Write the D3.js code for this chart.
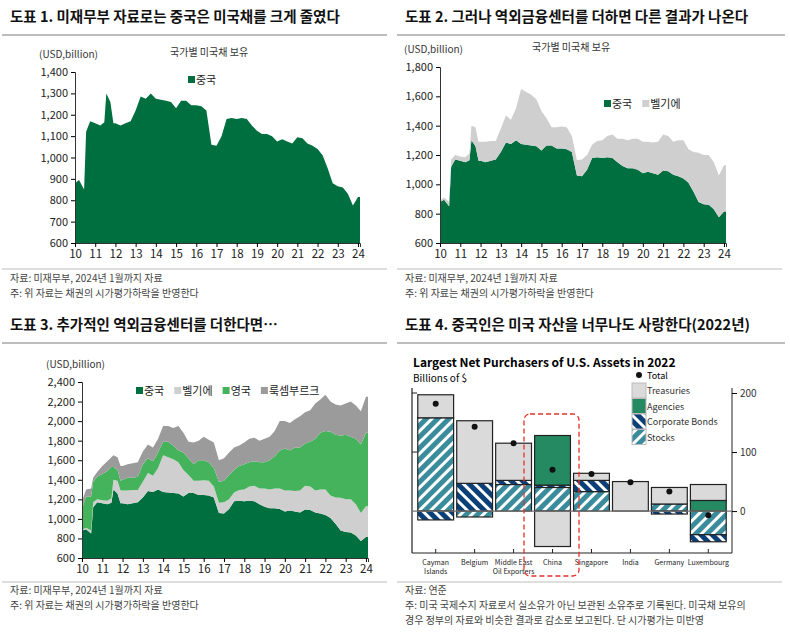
<!DOCTYPE html>
<html><head><meta charset="utf-8">
<script src="https://cdn.jsdelivr.net/npm/d3@7"></script>
<style>
body{margin:0;background:#fff;font-family:"Noto Sans CJK KR","Noto Sans",sans-serif}
text{font-family:"Noto Sans CJK KR","Noto Sans",sans-serif}
</style></head><body>
<svg id="c" width="790" height="638"></svg>
<script>
// dates as year fractions
const dates = [2010.0,2010.2,2010.45,2010.55,2010.75,2011.0,2011.25,2011.45,2011.55,2011.75,2011.9,2012.0,2012.25,2012.5,2012.75,2013.0,2013.25,2013.5,2013.75,2014.0,2014.25,2014.5,2014.75,2015.0,2015.25,2015.5,2015.75,2016.0,2016.25,2016.5,2016.75,2017.0,2017.25,2017.5,2017.75,2018.0,2018.25,2018.5,2018.75,2019.0,2019.25,2019.5,2019.75,2020.0,2020.25,2020.5,2020.75,2021.0,2021.25,2021.5,2021.75,2022.0,2022.25,2022.5,2022.75,2023.0,2023.25,2023.5,2023.75,2024.0,2024.1];
const china = [880,895,850,1120,1170,1160,1150,1165,1300,1260,1160,1160,1150,1160,1170,1220,1285,1275,1300,1275,1270,1265,1260,1230,1265,1265,1245,1245,1240,1220,1060,1055,1100,1180,1185,1180,1185,1180,1150,1125,1110,1110,1100,1075,1085,1075,1065,1095,1090,1065,1055,1040,1010,950,880,865,860,830,775,815,815];
const belgium = [10,15,30,50,30,30,35,45,100,130,130,130,140,135,125,160,185,165,220,375,360,345,320,270,185,125,145,150,150,110,105,115,100,90,110,120,145,160,160,185,190,200,210,215,205,210,225,245,240,225,245,260,230,270,335,335,340,320,285,315,315];
const uk = [210,320,350,210,230,270,305,320,130,110,100,110,130,125,135,180,150,150,160,140,160,140,120,180,170,170,210,205,190,190,215,220,250,230,245,260,250,250,270,270,300,330,390,430,410,445,440,430,460,530,580,600,650,640,635,660,640,670,700,750,750];
const lux = [80,70,80,40,50,80,100,100,120,130,150,140,140,150,150,130,140,140,140,160,160,180,250,200,170,220,200,240,230,260,220,230,230,230,210,220,240,240,220,240,240,260,300,280,280,290,320,320,320,360,340,370,310,310,310,320,360,340,340,370,370];
const yearTicks = d3.range(2010, 2025);

// panel 4 (billions of $)
const countries = ["Cayman\nIslands","Belgium","Middle East\nOil Exporters","China","Singapore","India","Germany","Luxembourg"];
const stocks    = [158,-10,45,40,33,0,12,-40];
const corporate = [-15,47,7,4,19,0,-5,-12];
const agencies  = [0,0,0,84,0,0,0,18];
const treasuries= [39,106,63,-60,12,50,28,27];
const totals    = [182,143,115,70,63,49,33,-7];

const C_CHINA="#006f3f", C_BEL="#cfcfcf", C_UK="#45b35c", C_LUX="#9b9b9b";
const svg = d3.select("#c");
const defs = svg.append("defs");
function hatch(id, bg, dir){
  const p = defs.append("pattern").attr("id",id).attr("patternUnits","userSpaceOnUse")
    .attr("width",8).attr("height",8).attr("patternTransform",`rotate(${dir})`);
  p.append("rect").attr("width",8).attr("height",8).attr("fill",bg);
  p.append("rect").attr("width",3).attr("height",8).attr("fill","#fff");
}
hatch("hStocks","#3a8c9c",45);
hatch("hCorp","#0b3f78",-45);

// headers
function header(x, y, w, title){
  svg.append("text").attr("x",x+8).attr("y",y).attr("font-size",14.5).attr("font-weight",700).attr("fill","#111").text(title);
  svg.append("line").attr("x1",x).attr("x2",x+w).attr("y1",y+13).attr("y2",y+13).attr("stroke","#bdbdbd").attr("stroke-width",2);
}
header(2,22,385,"도표 1. 미재무부 자료로는 중국은 미국채를 크게 줄였다");
header(397,22,388,"도표 2. 그러나 역외금융센터를 더하면 다른 결과가 나온다");
header(2,330,385,"도표 3. 추가적인 역외금융센터를 더한다면…");
header(397,330,388,"도표 4. 중국인은 미국 자산을 너무나도 사랑한다(2022년)");

function foot(x, y, lines, lineY){
  svg.append("line").attr("x1",x).attr("x2",x+385).attr("y1",lineY).attr("y2",lineY).attr("stroke","#bdbdbd").attr("stroke-width",1);
  lines.forEach((t,i)=>svg.append("text").attr("x",x+8).attr("y",y+i*15).attr("font-size",10).attr("fill","#444").text(t));
}
const f1 = ["자료: 미재무부, 2024년 1월까지 자료","주: 위 자료는 채권의 시가평가하락을 반영한다"];
foot(2,282,f1,269);
foot(397,282,f1,269);
foot(2,594,f1,582);
foot(397,594,["자료: 연준","주: 미국 국제수지 자료로서 실소유가 아닌 보관된 소유주로 기록된다. 미국채 보유의","경우 정부의 자료와 비슷한 결과로 감소로 보고된다. 단 시가평가는 미반영"],582);

function areaPanel(o){
  const g = svg.append("g");
  const x = d3.scaleLinear().domain([2010,2024.1]).range([o.l,o.r]);
  const y = d3.scaleLinear().domain(o.dom).range([o.b,o.t]);
  const rows = dates.map((d,i)=>{const r={d}; o.series.forEach(s=>r[s.k]=s.v[i]); return r;});
  const st = d3.stack().keys(o.series.map(s=>s.k))(rows);
  const ar = d3.area().x(d=>x(d.data.d)).y0(d=>y(Math.max(d[0],o.dom[0]))).y1(d=>y(d[1]));
  st.forEach((s,i)=>g.append("path").attr("d",ar(s)).attr("fill",o.series[i].c));
  const ya = d3.axisLeft(y).tickValues(d3.range(o.dom[0],o.dom[1]+1,o.step)).tickSize(4).tickFormat(d3.format(","));
  const ga = g.append("g").attr("transform",`translate(${o.l},0)`).call(ya);
  ga.select(".domain").attr("stroke","#333");
  ga.selectAll("text").attr("font-size",11).attr("fill","#222");
  const xa = d3.axisBottom(x).tickValues(yearTicks).tickSize(4).tickFormat(d=>String(d).slice(2));
  const gx = g.append("g").attr("transform",`translate(0,${o.b})`).call(xa);
  gx.select(".domain").attr("stroke","#333");
  gx.selectAll("text").attr("font-size",11.5).attr("fill","#222");
  g.append("text").attr("x",o.l-36).attr("y",o.t-14).attr("font-size",10).attr("fill","#333").text("(USD,billion)");
  if(o.sub) g.append("text").attr("x",o.subx).attr("y",o.t-16).attr("font-size",10).attr("fill","#333").text(o.sub);
  let lx = o.lx;
  o.series.forEach(s=>{
    g.append("rect").attr("x",lx).attr("y",o.ly-8).attr("width",7).attr("height",7).attr("fill",s.c);
    const t = g.append("text").attr("x",lx+8).attr("y",o.ly).attr("font-size",11).attr("fill","#222").text(s.n);
    lx += t.node().getComputedTextLength()+18;
  });
}
areaPanel({l:75,r:360,t:72,b:243,dom:[600,1400],step:100,sub:"국가별 미국채 보유",subx:170,lx:188,ly:84,
  series:[{k:"cn",v:china,c:C_CHINA,n:"중국"}]});
areaPanel({l:440,r:726,t:67,b:243,dom:[600,1800],step:200,sub:"국가별 미국채 보유",subx:532,lx:604,ly:108,
  series:[{k:"cn",v:china,c:C_CHINA,n:"중국"},{k:"be",v:belgium,c:C_BEL,n:"벨기에"}]});
areaPanel({l:82,r:368,t:382,b:558,dom:[600,2400],step:200,lx:136,ly:395,
  series:[{k:"cn",v:china,c:C_CHINA,n:"중국"},{k:"be",v:belgium,c:C_BEL,n:"벨기에"},{k:"uk",v:uk,c:C_UK,n:"영국"},{k:"lu",v:lux,c:C_LUX,n:"룩셈부르크"}]});

// panel 4
(function(){
  const g = svg.append("g");
  const L=412, R=732, B=553;
  const x = d3.scaleBand().domain(countries).range([417,727]).paddingInner(0.08).paddingOuter(0.02);
  const y = d3.scaleLinear().domain([-71,200]).range([B,393]);
  const rows = countries.map((c,i)=>({c,stocks:stocks[i],corporate:corporate[i],agencies:agencies[i],treasuries:treasuries[i]}));
  const keys=["stocks","corporate","agencies","treasuries"];
  const fills={stocks:"url(#hStocks)",corporate:"url(#hCorp)",agencies:"#258a62",treasuries:"#dadada"};
  const st = d3.stack().keys(keys).offset(d3.stackOffsetDiverging)(rows);
  g.append("text").attr("x",413).attr("y",367).attr("font-size",12).attr("font-weight",700).attr("font-family","Liberation Sans, Arial").text("Largest Net Purchasers of U.S. Assets in 2022");
  g.append("text").attr("x",413).attr("y",382).attr("font-size",10).attr("font-family","Liberation Sans, Arial").text("Billions of $");
  g.append("line").attr("x1",L).attr("x2",R).attr("y1",B).attr("y2",B).attr("stroke","#222").attr("stroke-width",1.2);
  g.append("line").attr("x1",L).attr("x2",L).attr("y1",388).attr("y2",B).attr("stroke","#222").attr("stroke-width",1.2);
  const ra = g.append("g").attr("transform",`translate(${R},0)`).call(d3.axisRight(y).tickValues([0,100,200]).tickSize(5));
  ra.select(".domain").attr("d",`M0,388V${B}`).attr("stroke","#222");
  ra.selectAll("text").attr("font-size",10).attr("fill","#333").attr("font-family","Liberation Sans, Arial");
  g.append("line").attr("x1",L).attr("x2",L+5).attr("y1",y(100)).attr("y2",y(100)).attr("stroke","#222");
  g.append("line").attr("x1",L).attr("x2",L+5).attr("y1",y(200)).attr("y2",y(200)).attr("stroke","#222");
  countries.forEach(c=>{
    const cx = x(c)+x.bandwidth()/2;
    g.append("line").attr("x1",cx).attr("x2",cx).attr("y1",B).attr("y2",B-4).attr("stroke","#222");
    const t = g.append("text").attr("x",cx).attr("y",B+12).attr("text-anchor","middle").attr("font-size",7).attr("font-family","Liberation Sans, Arial").attr("fill","#222");
    c.split("\n").forEach((s,i)=>t.append("tspan").attr("x",cx).attr("dy",i?8.5:0).text(s));
  });
  st.forEach(s=>{
    g.selectAll(null).data(s.filter(d=>d[1]!==d[0])).join("rect")
      .attr("x",d=>x(d.data.c)).attr("width",x.bandwidth())
      .attr("y",d=>y(Math.max(d[0],d[1]))).attr("height",d=>Math.abs(y(d[0])-y(d[1])))
      .attr("fill",fills[s.key]).attr("stroke","#222").attr("stroke-width",1.2);
  });
  g.append("line").attr("x1",L).attr("x2",R).attr("y1",y(0)).attr("y2",y(0)).attr("stroke","#777").attr("stroke-width",1.2);
  g.selectAll(null).data(totals).join("circle").attr("cx",(d,i)=>x(countries[i])+x.bandwidth()/2).attr("cy",d=>y(d)).attr("r",3).attr("fill","#111");
  const lx=632;
  g.append("circle").attr("cx",lx+7).attr("cy",375).attr("r",3).attr("fill","#111");
  g.append("text").attr("x",647).attr("y",379).attr("font-size",9).attr("font-family","Liberation Sans, Arial").text("Total");
  [["Treasuries","#dadada"],["Agencies","#258a62"],["Corporate Bonds","url(#hCorp)"],["Stocks","url(#hStocks)"]].forEach((d,i)=>{
    g.append("rect").attr("x",lx).attr("y",383+i*15.5).attr("width",14).attr("height",15).attr("fill",d[1]).attr("stroke","#bbb");
    g.append("text").attr("x",647).attr("y",394+i*15.5).attr("font-size",9).attr("fill","#333").attr("font-family","Liberation Sans, Arial").text(d[0]);
  });
  g.append("rect").attr("x",524).attr("y",414).attr("width",55).attr("height",162).attr("rx",6)
    .attr("fill","none").attr("stroke","#e8302a").attr("stroke-width",1.3).attr("stroke-dasharray","5,3");
})();
</script></body></html>
